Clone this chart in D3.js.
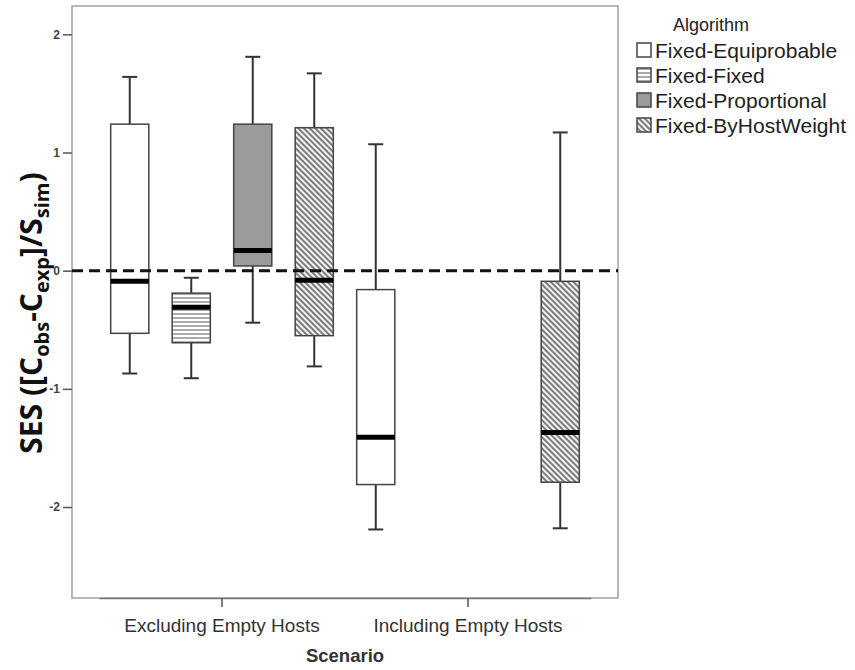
<!DOCTYPE html>
<html>
<head>
<meta charset="utf-8">
<script src="https://cdn.jsdelivr.net/npm/d3@7"></script>
<style>
  body { margin: 0; background: #fff; }
  svg { display: block; }
</style>
</head>
<body>
<svg width="855" height="670"></svg>
<script>
// categories
const scenarios = ["Excluding Empty Hosts", "Including Empty Hosts"];
const algorithms = ["Fixed-Equiprobable", "Fixed-Fixed", "Fixed-Proportional", "Fixed-ByHostWeight"];
const yTicks = [-2, -1, 0, 1, 2];

// five number summaries [lower whisker, Q1, median, Q3, upper whisker], one row per algorithm
const excludingStats = [
    [-0.87, -0.53, -0.09, 1.24, 1.64],
    [-0.91, -0.61, -0.31, -0.19, -0.06],
    [-0.44, 0.04, 0.17, 1.24, 1.81],
    [-0.81, -0.55, -0.08, 1.21, 1.67]
];
const includingStats = [
    [-2.19, -1.81, -1.41, -0.16, 1.07],
    null,
    null,
    [-2.18, -1.79, -1.37, -0.09, 1.17]
];
const referenceLine = 0;

const svg = d3.select("svg");

// plot frame
const frame = { left: 72, right: 618, top: 6, bottom: 598 };

const y = d3.scaleLinear()
    .domain([-2.77, 2.24])
    .range([frame.bottom, frame.top]);

const x = d3.scaleBand()
    .domain(scenarios)
    .range([99, 591])
    .padding(0);

const xInner = d3.scaleBand()
    .domain(algorithms)
    .range([0, x.bandwidth()])
    .padding(0);

// patterns
const defs = svg.append("defs");
const hl = defs.append("pattern")
    .attr("id", "hlines")
    .attr("patternUnits", "userSpaceOnUse")
    .attr("width", 8).attr("height", 4);
hl.append("rect").attr("width", 8).attr("height", 4).attr("fill", "#fff");
hl.append("line").attr("x1", 0).attr("x2", 8).attr("y1", 2).attr("y2", 2)
    .attr("stroke", "#666").attr("stroke-width", 1.1);

const dg = defs.append("pattern")
    .attr("id", "diag")
    .attr("patternUnits", "userSpaceOnUse")
    .attr("width", 8).attr("height", 4)
    .attr("patternTransform", "rotate(45)");
dg.append("rect").attr("width", 8).attr("height", 4).attr("fill", "#f2f2f2");
dg.append("line").attr("x1", 0).attr("x2", 8).attr("y1", 2).attr("y2", 2)
    .attr("stroke", "#555").attr("stroke-width", 1.5);

const fills = {
    "Fixed-Equiprobable": "#fff",
    "Fixed-Fixed": "url(#hlines)",
    "Fixed-Proportional": "#9b9b9b",
    "Fixed-ByHostWeight": "url(#diag)"
};

// frame
svg.append("rect")
    .attr("x", frame.left).attr("y", frame.top)
    .attr("width", frame.right - frame.left)
    .attr("height", frame.bottom - frame.top)
    .attr("fill", "none")
    .attr("stroke", "#a0a0a0")
    .attr("stroke-width", 1.5);

// Y axis
const yAxis = svg.append("g")
    .attr("transform", `translate(${frame.left},0)`)
    .call(d3.axisLeft(y).tickValues(yTicks).tickSize(9).tickPadding(3).tickFormat(d => String(d)));
yAxis.select(".domain").remove();
yAxis.selectAll("line").attr("stroke", "#555").attr("stroke-width", 1.5);
yAxis.selectAll("text")
    .style("font-family", "'Liberation Sans', Arial, sans-serif")
    .style("font-size", "12px")
    .style("font-weight", "bold")
    .attr("fill", "#444");

// X axis
const xAxis = svg.append("g")
    .attr("transform", `translate(0,${frame.bottom})`)
    .call(d3.axisBottom(x).tickSize(9).tickSizeOuter(0).tickPadding(12));
xAxis.select(".domain").attr("stroke", "#777").attr("stroke-width", 1.5);
xAxis.selectAll("line").attr("stroke", "#555").attr("stroke-width", 1.5);
xAxis.selectAll("text")
    .style("font-family", "'Liberation Sans', Arial, sans-serif")
    .style("font-size", "19px")
    .attr("fill", "#333");

// boxes
const boxes = [];
scenarios.forEach((s, i) => {
    const stats = i === 0 ? excludingStats : includingStats;
    algorithms.forEach((a, j) => {
        if (stats[j]) boxes.push({ scenario: s, algorithm: a, v: stats[j] });
    });
});

const boxW = xInner.bandwidth() * 0.62;
const capW = 15;

const g = svg.append("g");
const box = g.selectAll("g.box")
    .data(boxes)
  .enter()
  .append("g")
    .attr("class", "box")
    .attr("transform", d => `translate(${x(d.scenario) + xInner(d.algorithm) + xInner.bandwidth() / 2},0)`);

// whiskers
box.append("line")
    .attr("x1", 0).attr("x2", 0)
    .attr("y1", d => y(d.v[4])).attr("y2", d => y(d.v[3]))
    .attr("stroke", "#333").attr("stroke-width", 2);
box.append("line")
    .attr("x1", 0).attr("x2", 0)
    .attr("y1", d => y(d.v[1])).attr("y2", d => y(d.v[0]))
    .attr("stroke", "#333").attr("stroke-width", 2);
box.append("line")
    .attr("x1", -capW / 2).attr("x2", capW / 2)
    .attr("y1", d => y(d.v[4])).attr("y2", d => y(d.v[4]))
    .attr("stroke", "#333").attr("stroke-width", 2);
box.append("line")
    .attr("x1", -capW / 2).attr("x2", capW / 2)
    .attr("y1", d => y(d.v[0])).attr("y2", d => y(d.v[0]))
    .attr("stroke", "#333").attr("stroke-width", 2);

// box body
box.append("rect")
    .attr("x", -boxW / 2)
    .attr("width", boxW)
    .attr("y", d => y(d.v[3]))
    .attr("height", d => y(d.v[1]) - y(d.v[3]))
    .attr("fill", d => fills[d.algorithm])
    .attr("stroke", "#444")
    .attr("stroke-width", 1.5);

// median
box.append("line")
    .attr("x1", -boxW / 2).attr("x2", boxW / 2)
    .attr("y1", d => y(d.v[2])).attr("y2", d => y(d.v[2]))
    .attr("stroke", "#000").attr("stroke-width", 5);

// reference line at zero
svg.append("line")
    .attr("x1", frame.left).attr("x2", frame.right)
    .attr("y1", y(referenceLine)).attr("y2", y(referenceLine))
    .attr("stroke", "#111")
    .attr("stroke-width", 3)
    .attr("stroke-dasharray", "11,6");

// axis titles
svg.append("text")
    .attr("x", 345)
    .attr("y", 662)
    .attr("text-anchor", "middle")
    .style("font-family", "'Liberation Sans', Arial, sans-serif")
    .style("font-size", "18.5px")
    .style("font-weight", "bold")
    .attr("fill", "#333")
    .text("Scenario");

const yl = svg.append("text")
    .attr("transform", "translate(42,313) rotate(-90)")
    .attr("text-anchor", "middle")
    .style("font-family", "'Open Sans', sans-serif")
    .style("font-size", "30px")
    .style("font-weight", "bold")
    .attr("fill", "#111");
yl.append("tspan").text("SES ([C");
yl.append("tspan").attr("dy", 7).style("font-size", "20px").text("obs");
yl.append("tspan").attr("dy", -7).text("-C");
yl.append("tspan").attr("dy", 7).style("font-size", "20px").text("exp");
yl.append("tspan").attr("dy", -7).text("]/S");
yl.append("tspan").attr("dy", 7).style("font-size", "20px").text("sim");
yl.append("tspan").attr("dy", -7).text(")");

// legend
const legend = svg.append("g")
    .style("font-family", "'Liberation Sans', Arial, sans-serif")
    .attr("fill", "#222");
legend.append("text")
    .attr("x", 673).attr("y", 31)
    .style("font-size", "18px")
    .text("Algorithm");
const item = legend.selectAll("g.item")
    .data(algorithms)
  .enter()
  .append("g")
    .attr("class", "item")
    .attr("transform", (d, i) => `translate(637,${50 + i * 25})`);
item.append("rect")
    .attr("x", 0).attr("y", -7)
    .attr("width", 14).attr("height", 14)
    .attr("fill", d => fills[d])
    .attr("stroke", "#444")
    .attr("stroke-width", 1.5);
item.append("text")
    .attr("x", 18)
    .attr("y", 7.5)
    .style("font-size", "21px")
    .text(d => d);
</script>
</body>
</html>
